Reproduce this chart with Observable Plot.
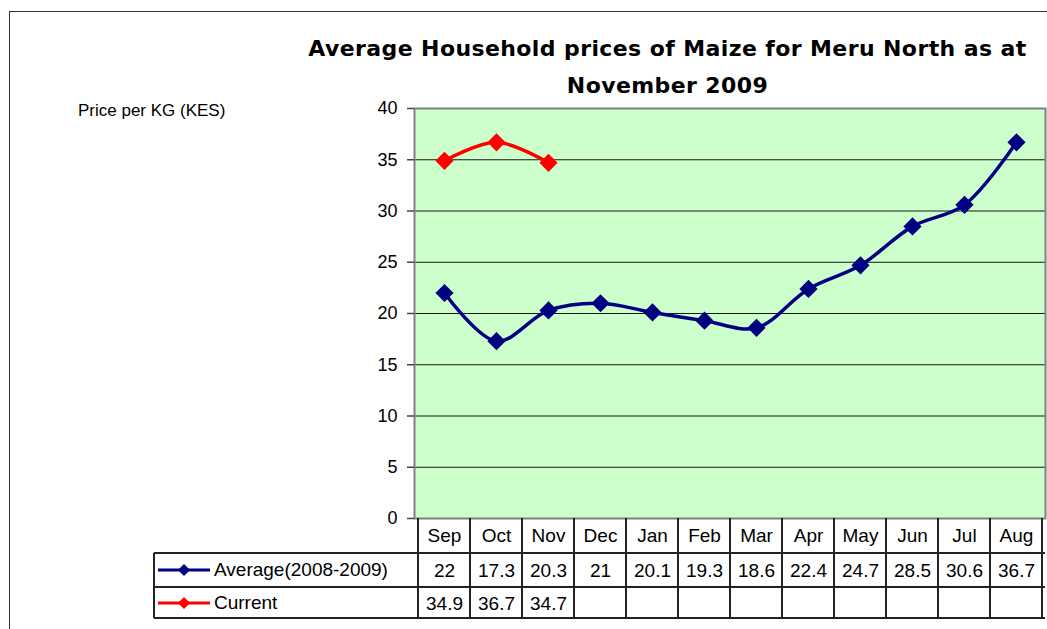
<!DOCTYPE html>
<html><head><meta charset="utf-8">
<script src="https://cdn.jsdelivr.net/npm/d3@7"></script>
<script src="https://cdn.jsdelivr.net/npm/@observablehq/plot@0.6"></script>
<style>
html,body{margin:0;padding:0;background:#fff;overflow:hidden}
#wrap{position:relative;width:1047px;height:629px;overflow:hidden;font-family:"Liberation Sans",Arial,sans-serif;color:#000}
#outer{position:absolute;left:9px;top:11px;width:1100px;height:700px;border:1.5px solid #333;box-sizing:border-box}
#title{position:absolute;left:280px;width:775px;top:30px;text-align:center;font-family:"Comic Sans MS","DejaVu Sans",sans-serif;font-weight:bold;font-size:22px;letter-spacing:0.4px;line-height:37px}
#ylab{position:absolute;left:78px;top:101px;font-size:17px;white-space:nowrap}
#chart{position:absolute;left:0;top:0}
.tl{position:absolute;background:#222}
.leg{position:absolute;left:158px;font-size:19px;white-space:nowrap;display:flex;align-items:center;gap:4px}
</style></head><body>
<div id="wrap">
  <div id="outer"></div>
  <div id="title">Average Household prices of Maize for Meru North as at<br>November 2009</div>
  <div id="ylab">Price per KG (KES)</div>
  <div id="chart"></div>
</div>
<script>
const months = ["Sep","Oct","Nov","Dec","Jan","Feb","Mar","Apr","May","Jun","Jul","Aug"];
const averageValues = [22,17.3,20.3,21,20.1,19.3,18.6,22.4,24.7,28.5,30.6,36.7];
const currentValues = [34.9,36.7,34.7];
const yTicks = [0,5,10,15,20,25,30,35,40];
const seriesNames = ["Average(2008-2009)","Current"];
const seriesColors = ["#000080","#FF0000"];

const avg = averageValues.map((v,i)=>({month:months[i], value:v}));
const cur = currentValues.map((v,i)=>({month:months[i], value:v}));

const W = 1047, H = 629;
const mL = 414, mR = 2, mT = 108, mB = 111;
const rowHeader = 17, row1 = 52, row2 = 85;

const chart = Plot.plot({
  width: W, height: H,
  marginLeft: mL, marginRight: mR, marginTop: mT, marginBottom: mB,
  style: {fontFamily: '"Liberation Sans", Arial, sans-serif', background: "transparent", color: "#000"},
  x: {type: "point", domain: months, padding: 0.5, axis: null},
  y: {domain: [0,40], axis: null},
  marks: [
    Plot.frame({fill: "#CCFFCC", stroke: "none"}),
    Plot.gridY(yTicks, {stroke: "#000", strokeOpacity: 0.9, strokeWidth: 1}),
    Plot.frame({stroke: "#808080", strokeWidth: 2}),
    Plot.axisY(yTicks, {tickSize: 7, tickPadding: 10, fontSize: 18, label: null, stroke: "#444", strokeWidth: 1.5}),
    Plot.line(avg, {x: "month", y: "value", stroke: seriesColors[0], strokeWidth: 3.5, curve: "catmull-rom"}),
    Plot.dot(avg, {x: "month", y: "value", symbol: "diamond2", r: 8.2, fill: seriesColors[0], stroke: "none"}),
    Plot.line(cur, {x: "month", y: "value", stroke: seriesColors[1], strokeWidth: 3.5, curve: "catmull-rom"}),
    Plot.dot(cur, {x: "month", y: "value", symbol: "diamond2", r: 8.2, fill: seriesColors[1], stroke: "none"}),
    Plot.text(months, {x: d => d, y: () => 0, dy: rowHeader, fontSize: 19, fill: "#000"}),
    Plot.text(avg, {x: "month", y: () => 0, dy: row1, text: d => String(d.value), fontSize: 19, fill: "#000"}),
    Plot.text(cur, {x: "month", y: () => 0, dy: row2, text: d => String(d.value), fontSize: 19, fill: "#000"})
  ]
});
document.getElementById("chart").appendChild(chart);

// table grid, placed from the chart's x scale
const wrap = document.getElementById("wrap");
const xs = chart.scale("x");
const pos = months.map(m => xs.apply(m));
const step = pos[1] - pos[0];
const bounds = [pos[0] - step/2, ...pos.map(p => p + step/2)];
const yb = H - mB;
const tableLeft = 154;
const hLines = [yb + 35, yb + 69, yb + 100];
function line(l, t, w, h) {
  const d = document.createElement("div");
  d.className = "tl";
  d.style.left = l + "px"; d.style.top = t + "px"; d.style.width = w + "px"; d.style.height = h + "px";
  wrap.appendChild(d);
}
hLines.forEach((y) => line(tableLeft, y - 0.75, W - mR - tableLeft, 1.5));
bounds.forEach((x) => line(x - 0.75, yb, 1.5, hLines[2] - yb));
line(tableLeft - 0.75, hLines[0], 1.5, hLines[2] - hLines[0]);

// legend keys inside the table
seriesNames.forEach((name, i) => {
  const d = document.createElement("div");
  d.className = "leg";
  const top = (i === 0 ? hLines[0] : hLines[1]);
  const h = (i === 0 ? hLines[1] - hLines[0] : hLines[2] - hLines[1]);
  d.style.top = top + "px"; d.style.height = h + "px";
  d.innerHTML = `<svg width="52" height="14"><line x1="0" y1="7" x2="52" y2="7" stroke="${seriesColors[i]}" stroke-width="3"/><path d="M26 1 L32 7 L26 13 L20 7 Z" fill="${seriesColors[i]}"/></svg><span>${name}</span>`;
  wrap.appendChild(d);
});
</script>
</body></html>
